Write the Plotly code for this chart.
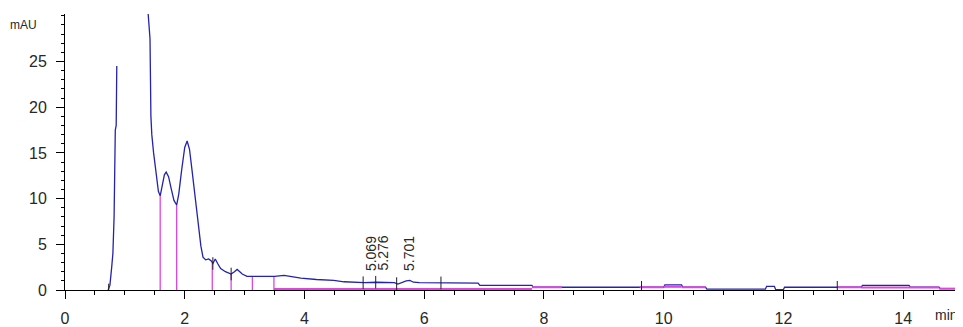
import plotly.graph_objects as go

# Chromatogram signal (min, mAU); None marks the off-scale gap
time_min = [0.72, 0.75, 0.78, 0.80, 0.82, 0.84, 0.855, 0.865, None,
            1.38, 1.42, 1.435, 1.45, 1.48, 1.51, 1.535, 1.56, 1.59, 1.62, 1.66, 1.69,
            1.73, 1.77, 1.82, 1.865, 1.9, 1.95, 2.0, 2.04, 2.08, 2.12, 2.16, 2.2,
            2.24, 2.27, 2.305, 2.35, 2.4, 2.44, 2.47, 2.51, 2.55, 2.6, 2.68, 2.775,
            2.83, 2.875, 2.92, 2.96, 3.04, 3.5, 3.66, 3.8, 3.94, 4.2, 4.49, 4.66,
            4.77, 5.0, 5.2, 5.5, 5.56, 5.62, 5.7, 5.76, 5.82, 5.92, 6.5, 6.9,
            6.93, 7.6, 7.8, 7.82, 8.3, 9.6, 10.0, 10.02, 10.3, 10.32, 10.7, 10.72,
            11.7, 11.72, 11.85, 11.87, 12.0, 12.02, 12.9, 13.3, 13.32, 14.1, 14.12,
            14.6, 14.62, 15.0]
signal_mau = [0.0, 0.5, 2.5, 4.0, 8.0, 17.5, 18.0, 24.5, None,
              31.0, 27.5, 19.0, 17.0, 15.0, 13.5, 11.8, 10.8, 10.3, 11.2, 12.6, 12.9,
              12.4, 11.2, 9.8, 9.3, 10.5, 13.2, 15.6, 16.3, 15.4, 13.2, 10.8, 8.6,
              6.4, 4.8, 3.6, 3.3, 3.4, 3.2, 2.9, 3.4, 2.9, 2.35, 2.0, 1.75,
              2.0, 2.25, 2.0, 1.75, 1.5, 1.5, 1.6, 1.45, 1.3, 1.15, 1.05, 0.9,
              0.85, 0.8, 0.85, 0.8, 0.65, 0.8, 1.0, 1.05, 0.85, 0.8, 0.78, 0.75,
              0.5, 0.5, 0.5, 0.3, 0.3, 0.3, 0.3, 0.55, 0.55, 0.3, 0.3, 0.1,
              0.1, 0.4, 0.4, 0.05, 0.05, 0.3, 0.3, 0.3, 0.5, 0.5, 0.3,
              0.3, 0.15, 0.15]

# Integration baseline segments (None separates segments)
baseline_min = [3.49, 7.8, None, 7.8, 8.3, None, 9.6, 10.0, None, 10.0, 10.3, None,
                10.3, 10.7, None, 12.9, 13.3, None, 13.3, 14.6, None, 14.6, 15.0]
baseline_mau = [0.12, 0.12, None, 0.3, 0.3, None, 0.3, 0.3, None, 0.35, 0.35, None,
                0.3, 0.3, None, 0.3, 0.3, None, 0.28, 0.28, None, 0.15, 0.15]

# Peak drop lines
drop_min = [1.59, 1.865, 2.46, 2.775, 3.13, 3.49]
drop_mau = [10.3, 9.3, 2.95, 1.75, 1.5, 1.5]

# Integration event marks
event_min = [0.73, 2.47, 2.775, 4.98, 5.19, 5.54, 6.28, 9.63, 12.9]
event_mau = [0.0, 2.9, 1.75, 0.8, 0.85, 0.7, 0.78, 0.3, 0.3]

# Peak labels
label_min = [5.069, 5.276, 5.701]
label_text = ["5.069", "5.276", "5.701"]

y_ticks = [0, 5, 10, 15, 20, 25]
x_ticks = [0, 2, 4, 6, 8, 10, 12, 14]

BLUE = "rgb(35,35,175)"
MAGENTA = "rgb(222,70,222)"
FONT = "Liberation Sans, Arial, sans-serif"
TXT = "rgb(40,40,40)"

drop_x, drop_y = [], []
for t, h in zip(drop_min, drop_mau):
    drop_x += [t, t, None]
    drop_y += [0, h, None]

fig = go.Figure()
fig.add_trace(go.Scatter(x=drop_x, y=drop_y, mode="lines",
                         line=dict(color=MAGENTA, width=1.3), hoverinfo="skip"))
fig.add_trace(go.Scatter(x=time_min, y=signal_mau, mode="lines",
                         line=dict(color=BLUE, width=1.3), connectgaps=False))
fig.add_trace(go.Scatter(x=baseline_min, y=baseline_mau, mode="lines",
                         line=dict(color=MAGENTA, width=2), connectgaps=False))
fig.add_trace(go.Scatter(x=event_min, y=event_mau, mode="markers",
                         marker=dict(symbol="line-ns", size=9,
                                     line=dict(color="rgb(30,30,30)", width=1))))

for t, txt in zip(label_min, label_text):
    fig.add_annotation(x=t, y=1.9, text=txt, textangle=-90, showarrow=False,
                       xanchor="center", yanchor="bottom", xshift=2.5,
                       font=dict(family=FONT, size=14, color=TXT))

fig.add_annotation(xref="paper", yref="paper", x=-0.046, y=0.961, text="mAU",
                   showarrow=False, xanchor="center", yanchor="middle",
                   font=dict(family=FONT, size=12, color=TXT))
fig.add_annotation(xref="paper", yref="paper", x=1.0, y=0.0, text="min",
                   showarrow=False, xanchor="right", yanchor="top",
                   xshift=-3, yshift=-15,
                   font=dict(family=FONT, size=14, color=TXT))

# page body has an 8px margin: plot area spans page x 65..963, y 14..297
fig.update_layout(
    width=955, height=319,
    margin=dict(l=57, r=0, t=6, b=30),
    plot_bgcolor="white", paper_bgcolor="white",
    showlegend=False,
    font=dict(family=FONT, size=16, color=TXT),
)
fig.update_xaxes(range=[0, 15.0], tickvals=x_ticks, ticks="outside", ticklen=8,
                 tickcolor="black", showline=True, linecolor="black", linewidth=1,
                 showgrid=False, zeroline=False, ticklabelstandoff=6,
                 minor=dict(dtick=0.5, ticks="outside", ticklen=4, tickcolor="black"))
fig.update_yaxes(range=[0, 30.2], tickvals=y_ticks, ticks="outside", ticklen=8,
                 tickcolor="black", showline=True, linecolor="black", linewidth=1,
                 showgrid=False, zeroline=False, ticklabelstandoff=6,
                 minor=dict(dtick=1, ticks="outside", ticklen=3, tickcolor="black"))

fig.write_html("out.html")
